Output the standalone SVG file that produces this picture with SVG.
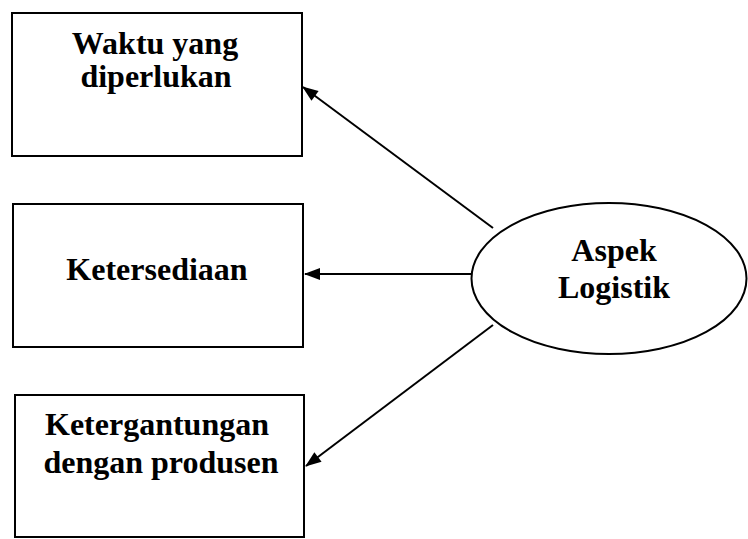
<svg xmlns="http://www.w3.org/2000/svg" width="748" height="539" viewBox="0 0 748 539">
  <style>
    .box { fill: #fff; stroke: #000; stroke-width: 2; }
    .lbl { font-family: "Liberation Serif", "Times New Roman", serif; font-weight: bold; font-size: 32px; fill: #000; text-anchor: middle; }
    .edge { stroke: #000; stroke-width: 2; fill: none; marker-end: url(#arrow); }
  </style>
  <defs>
    <marker id="arrow" markerWidth="16" markerHeight="12" refX="15" refY="6" markerUnits="userSpaceOnUse" orient="auto" overflow="visible">
      <path d="M0,0 L16,6 L0,12 z" fill="#000"/>
    </marker>
  </defs>
  <rect width="748" height="539" fill="#fff"/>

  <g id="waktu">
    <rect class="box" x="12" y="13" width="290" height="143"/>
    <text class="lbl" x="155" y="54">Waktu yang</text>
    <text class="lbl" x="156" y="87">diperlukan</text>
  </g>

  <g id="ketersediaan">
    <rect class="box" x="13" y="204" width="290" height="143"/>
    <text class="lbl" x="157" y="280">Ketersediaan</text>
  </g>

  <g id="ketergantungan">
    <rect class="box" x="15" y="395" width="289" height="142"/>
    <text class="lbl" x="157" y="435">Ketergantungan</text>
    <text class="lbl" x="161" y="473">dengan produsen</text>
  </g>

  <g id="aspek">
    <ellipse class="box" cx="609" cy="278.5" rx="137.5" ry="75.5"/>
    <text class="lbl" x="614" y="261">Aspek</text>
    <text class="lbl" x="614" y="298">Logistik</text>
  </g>

  <g id="connectors">
    <line class="edge" x1="493" y1="228" x2="303" y2="87"/>
    <line class="edge" x1="471" y1="274" x2="305" y2="274"/>
    <line class="edge" x1="493" y1="325" x2="306" y2="466"/>
  </g>
</svg>
